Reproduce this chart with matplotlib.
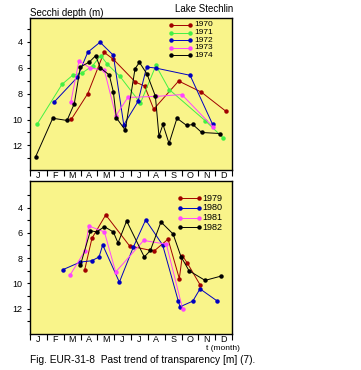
import matplotlib
matplotlib.use("Agg")
import matplotlib.pyplot as plt
from matplotlib.ticker import FixedLocator, NullFormatter

plt.rcParams['font.family'] = ['Liberation Sans', 'DejaVu Sans']

months = ['J', 'F', 'M', 'A', 'M', 'J', 'J', 'A', 'S', 'O', 'N', 'D']

# top panel: 1970-1974 (x in months from Jan 1, y = Secchi depth in m)
x1970 = [2.46, 3.43, 4.40, 4.95, 6.26, 6.81, 7.35, 8.83, 10.18, 11.65]
y1970 = [9.97, 8.0, 4.8, 5.34, 7.1, 7.41, 9.2, 7.02, 7.88, 9.37]
x1971 = [0.44, 1.9, 2.53, 3.1, 3.72, 4.2, 4.6, 5.35, 6.56, 7.48, 8.27, 10.4, 11.46]
y1971 = [10.33, 7.28, 6.58, 6.4, 5.84, 5.05, 5.73, 6.67, 8.73, 5.82, 7.68, 10.08, 11.39]
x1972 = [1.41, 2.81, 3.43, 4.16, 4.95, 5.57, 6.42, 6.93, 7.47, 9.51, 10.85]
y1972 = [8.68, 6.74, 4.8, 4.02, 5.03, 10.41, 8.6, 5.94, 6.02, 6.58, 10.38]
x1973 = [2.42, 2.91, 3.56, 4.42, 5.1, 5.81, 7.5, 9.02, 10.86]
y1973 = [8.68, 5.47, 6.0, 6.2, 9.72, 8.29, 8.21, 8.07, 10.55]
x1974 = [0.34, 1.35, 2.2, 2.63, 2.99, 3.53, 3.9, 4.18, 4.71, 4.95, 5.13, 5.66,
         6.24, 6.5, 6.95, 7.45, 7.66, 7.9, 8.26, 8.73, 9.31, 9.67, 10.2, 11.29]
y1974 = [12.86, 9.9, 10.07, 8.78, 5.94, 5.55, 5.06, 6.0, 6.56, 7.85, 9.87, 10.82,
         6.07, 5.58, 6.48, 8.2, 11.29, 10.38, 11.85, 9.9, 10.46, 10.38, 11.0, 11.08]

# bottom panel: 1979-1982
x1979 = [3.25, 3.68, 4.5, 5.92, 7.37, 8.2, 8.87, 9.05, 9.35, 10.1]
y1979 = [8.92, 6.43, 4.58, 7.04, 7.44, 6.5, 9.62, 7.8, 8.4, 10.1]
x1980 = [1.94, 2.99, 3.66, 4.1, 4.32, 5.31, 6.14, 6.87, 7.88, 8.81, 8.91, 9.67, 10.1, 11.13]
y1980 = [8.92, 8.31, 8.21, 7.91, 6.96, 9.9, 7.12, 4.98, 6.96, 11.4, 11.85, 11.4, 10.43, 11.4]
x1981 = [2.38, 3.27, 3.49, 4.42, 5.09, 6.75, 8.1, 9.07]
y1981 = [9.34, 7.41, 5.45, 5.93, 9.1, 6.6, 6.9, 12.04]
x1982 = [2.99, 3.59, 3.96, 4.42, 4.95, 5.23, 5.74, 6.79, 7.15, 7.78, 8.5, 8.97, 9.45, 10.4, 11.35]
y1982 = [8.58, 5.83, 5.93, 5.51, 5.93, 6.8, 5.06, 7.91, 7.39, 5.14, 6.09, 7.88, 9.0, 9.76, 9.42]

red = '#a00000'
green = '#44f044'
blue = '#0000c0'
pink = '#ff44ff'
black = '#000000'
bg = '#f9f48a'

top_series = [('1970', x1970, y1970, red), ('1971', x1971, y1971, green),
              ('1972', x1972, y1972, blue), ('1973', x1973, y1973, pink),
              ('1974', x1974, y1974, black)]
bot_series = [('1979', x1979, y1979, red), ('1980', x1980, y1980, blue),
              ('1981', x1981, y1981, pink), ('1982', x1982, y1982, black)]

fig = plt.figure(figsize=(3.61, 3.70), dpi=100)
W, H = 361.0, 370.0
ax1 = fig.add_axes([30 / W, 1 - 170 / H, 202 / W, 152 / H])
ax2 = fig.add_axes([30 / W, 1 - 334 / H, 202 / W, 153 / H])


def style(ax, ylim):
    ax.set_facecolor(bg)
    ax.set_xlim(0, 12)
    ax.set_ylim(*ylim)
    ax.xaxis.set_major_locator(FixedLocator(range(13)))
    ax.xaxis.set_major_formatter(NullFormatter())
    ax.xaxis.set_minor_locator(FixedLocator([m + 0.5 for m in range(12)]))
    ax.set_xticklabels(months, minor=True)
    ax.tick_params(axis='x', which='major', length=4, width=0.8, direction='out')
    ax.tick_params(axis='x', which='minor', length=0, pad=1.0, labelsize=6.5)
    ax.set_yticks([4, 6, 8, 10, 12])
    ax.set_yticks(range(3, 14), minor=True)
    ax.tick_params(axis='y', which='major', length=2.5, width=0.8, pad=3, labelsize=6.5)
    ax.tick_params(axis='y', which='minor', length=2, width=0.8)
    for s in ax.spines.values():
        s.set_linewidth(1.0)


def legend(ax, series, x0, x1, xt, y0, dy, fs):
    for i, (lab, _, _, col) in enumerate(series):
        y = y0 - i * dy
        ax.plot([x0, x1], [y, y], color=col, lw=0.7, marker='o', ms=2.2,
                transform=ax.transAxes, clip_on=False)
        ax.text(xt, y, lab, fontsize=fs, va='center', ha='left', transform=ax.transAxes)


style(ax1, (13.9, 2.15))
style(ax2, (14.0, 1.9))

for lab, xs, ys, col in top_series:
    ax1.plot(xs, ys, color=col, lw=0.7, marker='o', ms=2.2)
for lab, xs, ys, col in bot_series:
    ax2.plot(xs, ys, color=col, lw=0.7, marker='o', ms=2.2)

legend(ax1, top_series, (171 - 30) / 202, (190 - 30) / 202, (194 - 30) / 202,
       1 - 7 / 152, 7.6 / 152, 6)
legend(ax2, bot_series, (180 - 30) / 202, (199 - 30) / 202, (202 - 30) / 202,
       1 - 17.3 / 153, 9.6 / 153, 6.5)

fig.text(30 / W, 1 - 12.5 / H, 'Secchi depth (m)', fontsize=7, va='center', ha='left')
fig.text(233 / W, 1 - 9.5 / H, 'Lake Stechlin', fontsize=7, va='center', ha='right')
fig.text(206 / W, 1 - 344.5 / H, 't (month)', fontsize=6, va='top', ha='left')
fig.text(30 / W, 1 - 360 / H, 'Fig. EUR-31-8  Past trend of transparency [m] (7).',
         fontsize=7.3, va='center', ha='left')

fig.savefig('out.png', dpi=100)
